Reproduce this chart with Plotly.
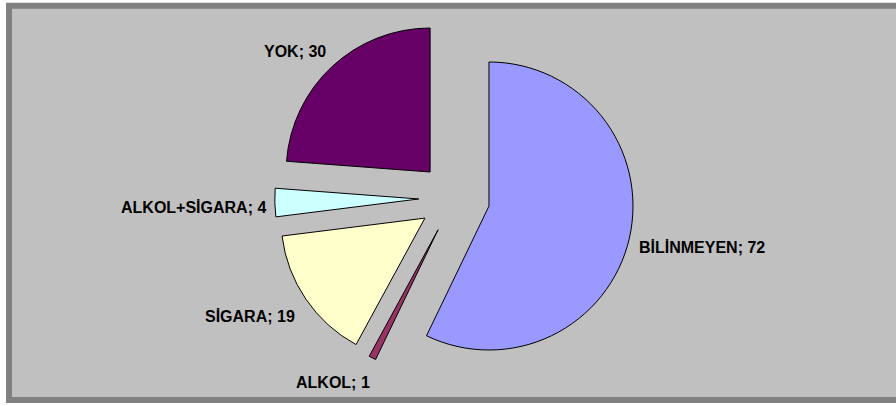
import math
import plotly.graph_objects as go

# Slices, in clockwise order starting at 12 o'clock
labels = ["BİLİNMEYEN", "ALKOL", "SİGARA", "ALKOL+SİGARA", "YOK"]
values = [72, 1, 19, 4, 30]
colors = ["#9999FF", "#993366", "#FFFFCC", "#CCFFFF", "#660066"]

W, H = 896, 406
PULL = 0.247
DOMAIN_X = [0.3066, 0.7075]
DOMAIN_Y = [0.0698, 0.9544]
# distance (px) from pie centre to the label's nearest corner
label_dist = [192, 200, 195, 189, 197]
# fine placement of each label (px right, px up)
label_nudge = [(-4, 3), (8, 3), (3, 1), (2, 5), (7, -7)]

fig = go.Figure()
fig.add_trace(go.Pie(
    labels=labels,
    values=values,
    sort=False,
    direction="clockwise",
    rotation=0,
    pull=[PULL] * len(values),
    marker=dict(colors=colors, line=dict(color="#000000", width=1)),
    textinfo="none",
    hoverinfo="label+value",
    showlegend=False,
    domain=dict(x=DOMAIN_X, y=DOMAIN_Y),
))

# data labels placed just outside each exploded slice
total = sum(values)
cx = (DOMAIN_X[0] + DOMAIN_X[1]) / 2 * W
cy = (DOMAIN_Y[0] + DOMAIN_Y[1]) / 2 * H
start = 0.0
for lab, val, dist, (nx, ny) in zip(labels, values, label_dist, label_nudge):
    span = 360.0 * val / total
    mid = math.radians(start + span / 2)
    start += span
    dx, dy = math.sin(mid), math.cos(mid)
    fig.add_annotation(
        x=(cx + dist * dx) / W,
        y=(cy + dist * dy) / H,
        xref="paper", yref="paper",
        xshift=nx, yshift=ny,
        text=f"<b>{lab}; {val}</b>",
        showarrow=False,
        xanchor="left" if dx > 0 else "right",
        yanchor="bottom" if dy > 0 else "top",
        borderpad=0,
        font=dict(family="Liberation Sans, Arial, sans-serif", size=16, color="#000000"),
    )

# chart area: grey fill with a darker frame
fig.add_shape(
    type="rect", xref="paper", yref="paper",
    x0=9 / W, x1=1.05,
    y0=1 - 400 / H, y1=1 - 5.75 / H,
    line=dict(color="#808080", width=6),
    fillcolor="#C0C0C0",
    layer="below",
)

fig.update_layout(
    width=W, height=H,
    margin=dict(l=0, r=0, t=0, b=0),
    paper_bgcolor="#FFFFFF",
    plot_bgcolor="#FFFFFF",
)

fig.write_html("out.html")
